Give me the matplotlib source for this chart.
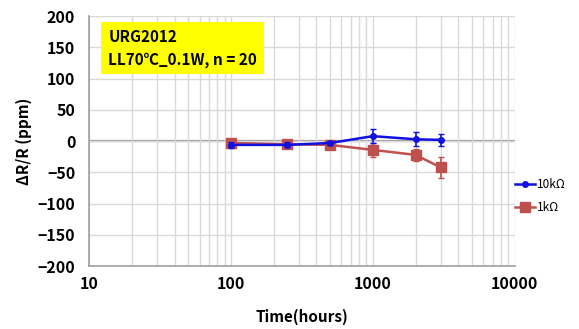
import numpy as np
import matplotlib
matplotlib.use('Agg')
import matplotlib.pyplot as plt
from matplotlib.ticker import FixedLocator, NullFormatter

plt.rcParams['font.family'] = ['Noto Sans CJK JP', 'DejaVu Sans']

hours = [100, 250, 500, 1000, 2000, 3000]
r10k = [-6, -6, -3, 8, 3, 2]
r10k_err = [5, 4, 3, 11, 11, 9]
r1k = [-3, -5, -6, -14, -22, -42]
r1k_err = [3, 3, 4, 11, 10, 17]

yticks = [-200, -150, -100, -50, 0, 50, 100, 150, 200]
xticks = [10, 100, 1000, 10000]

fig = plt.figure(figsize=(5.79, 3.29), dpi=100)
ax = fig.add_axes([0.154, 0.191, 0.735, 0.760])

ax.set_xscale('log')
ax.set_xlim(10, 10000)
ax.set_ylim(-200, 200)

minors = [m * d for d in [10, 100, 1000] for m in range(2, 10)]
ax.xaxis.set_minor_locator(FixedLocator(minors))
ax.xaxis.set_minor_formatter(NullFormatter())
ax.set_xticks(xticks)
ax.set_xticklabels([str(v) for v in xticks])
ax.set_yticks(yticks)

ax.grid(True, which='major', color='#d9d9d9', lw=1.0)
ax.grid(True, which='minor', axis='x', color='#d9d9d9', lw=1.0)
ax.axhline(0, color='#9a9a9a', lw=1.6, zorder=1)
ax.tick_params(which='both', length=0, labelsize=11.5)
ax.tick_params(axis='y', pad=10)
ax.tick_params(axis='x', pad=7)
for lab in ax.get_xticklabels() + ax.get_yticklabels():
    lab.set_fontweight('bold')

for side in ['top', 'right']:
    ax.spines[side].set_visible(False)
for side in ['left', 'bottom']:
    ax.spines[side].set_color('#a0a0a0')
    ax.spines[side].set_linewidth(1.2)

blue = '#1010e0'
red = '#c0504d'
ax.errorbar(hours, r10k, yerr=r10k_err, fmt='none', ecolor=blue, capsize=2.5,
            elinewidth=1.2, zorder=4)
ax.plot(hours, r10k, color=blue, lw=1.8, marker='o', ms=4, label='10kΩ', zorder=4)
ax.errorbar(hours, r1k, yerr=r1k_err, fmt='none', ecolor=red, capsize=2.5,
            elinewidth=1.2, zorder=3)
ax.plot(hours, r1k, color=red, lw=1.8, marker='s', ms=7, label='1kΩ', zorder=3)

ax.text(0.045, 0.95, 'URG2012\nLL70℃_0.1W, n = 20', transform=ax.transAxes,
        fontsize=11, fontweight='bold', va='top', ha='left', linespacing=1.5,
        bbox=dict(facecolor='#ffff00', edgecolor='none', pad=5))

ax.set_ylabel('ΔR/R (ppm)', fontsize=11, fontweight='bold', labelpad=4)
ax.set_xlabel('Time(hours)', fontsize=11, fontweight='bold', labelpad=12)

ax.legend(loc='center left', bbox_to_anchor=(515 / 579, 1 - 196 / 329),
          bbox_transform=fig.transFigure, frameon=False, borderaxespad=0,
          borderpad=0, fontsize=8.5, handlelength=1.7, handletextpad=0.2,
          labelspacing=0.8)

fig.savefig('out.png', dpi=100)
